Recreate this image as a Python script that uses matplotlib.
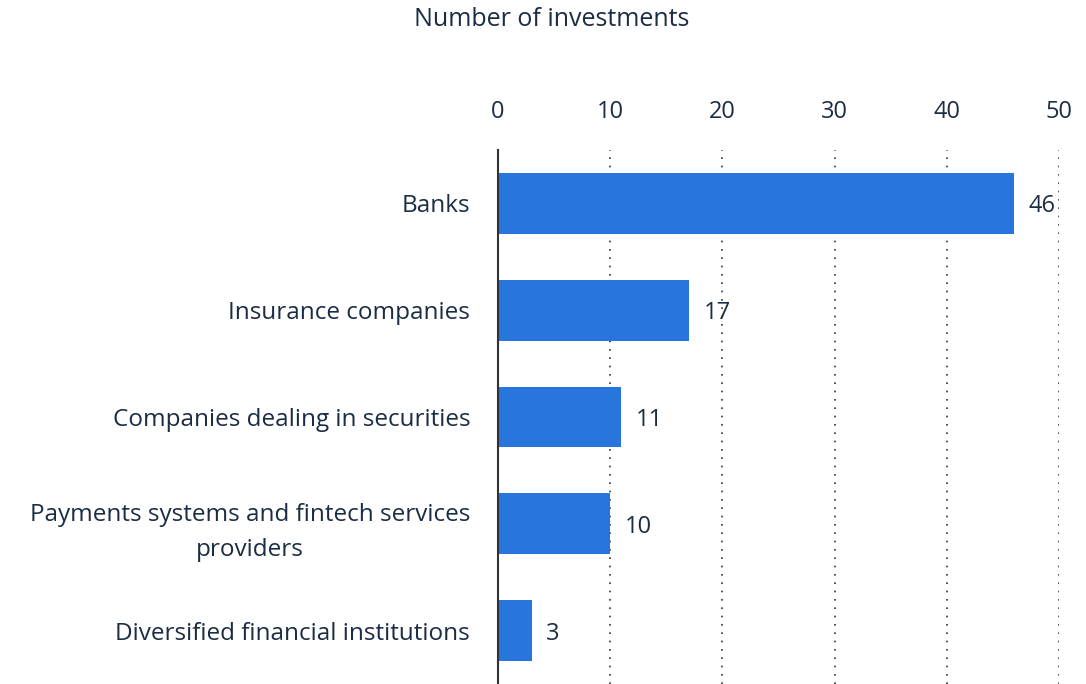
import matplotlib
matplotlib.use("Agg")
import matplotlib.pyplot as plt

categories = [
    "Banks",
    "Insurance companies",
    "Companies dealing in securities",
    "Payments systems and fintech services\nproviders",
    "Diversified financial institutions",
]
values = [46, 17, 11, 10, 3]
x_ticks = [0, 10, 20, 30, 40, 50]

text_color = "#1b2d44"
bar_color = "#2876dd"

plt.rcParams["font.family"] = ["Open Sans", "DejaVu Sans"]

fig = plt.figure(figsize=(10.86, 6.84), dpi=100)
ax = fig.add_axes([498 / 1086, 0, (1059 - 498) / 1086, 1 - 150 / 684])

y = list(range(len(categories)))
ax.barh(y, values, height=0.57, color=bar_color, zorder=3)
for yi, v in zip(y, values):
    ax.text(v + 1.3, yi, str(v), va="center_baseline", ha="left",
            fontsize=17, color=text_color, zorder=4)

ax.set_ylim(len(categories) - 0.5, -0.5)
ax.set_xlim(0, 50)
ax.set_yticks(y)
ax.set_yticklabels(categories, fontsize=17.5, color=text_color,
                   multialignment="center", linespacing=1.6)
ax.xaxis.tick_top()
ax.set_xticks(x_ticks)
ax.set_xticklabels([str(t) for t in x_ticks], fontsize=17, color=text_color)
ax.tick_params(axis="x", length=0, pad=19)
ax.tick_params(axis="y", length=0, pad=20)

for t in x_ticks[1:]:
    ax.axvline(t, color="#333333", linestyle=(0, (1, 4)), linewidth=1.2, zorder=1)

for s in ["top", "right", "bottom"]:
    ax.spines[s].set_visible(False)
ax.spines["left"].set_color("#333333")
ax.spines["left"].set_linewidth(1.5)
ax.spines["left"].set_zorder(5)

fig.text(552 / 1086, 1 - 20 / 684, "Number of investments", ha="center",
         va="center", fontsize=18, color=text_color)

fig.savefig("out.png", dpi=100)
